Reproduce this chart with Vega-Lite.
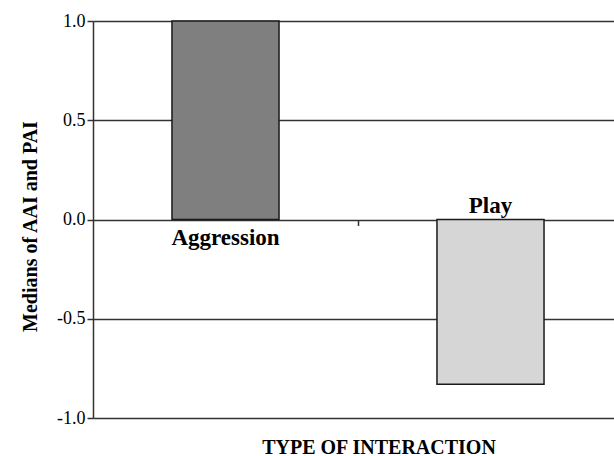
{
  "$schema": "https://vega.github.io/schema/vega-lite/v6.json",
  "autosize": "none",
  "width": 530,
  "height": 397,
  "padding": {"left": 93, "top": 21, "right": 0, "bottom": 38},
  "background": "white",
  "config": {
    "view": {"stroke": null},
    "font": "Liberation Serif"
  },
  "title": {
    "text": "TYPE OF INTERACTION",
    "orient": "bottom",
    "anchor": "middle",
    "font": "Liberation Serif",
    "fontSize": 20,
    "fontWeight": "bold",
    "color": "black",
    "dx": 21,
    "offset": 11
  },
  "data": {
    "values": [
      {"type": "Aggression", "median": 1.0},
      {"type": "Play", "median": -0.83}
    ]
  },
  "encoding": {
    "x": {
      "field": "type",
      "type": "nominal",
      "sort": null,
      "scale": {"paddingInner": 0.596, "paddingOuter": 0.298},
      "axis": {
        "orient": "bottom",
        "offset": -198.5,
        "labels": false,
        "domain": false,
        "ticks": true,
        "tickOffset": 132.5,
        "tickSize": 6,
        "tickColor": "#333333",
        "tickWidth": 1.5,
        "title": null,
        "grid": false
      }
    }
  },
  "layer": [
    {
      "mark": {"type": "bar", "stroke": "#1a1a1a", "strokeWidth": 1.5},
      "encoding": {
        "y": {
          "field": "median",
          "type": "quantitative",
          "scale": {"domain": [-1, 1], "nice": false},
          "axis": {
            "title": "Medians of AAI and PAI",
            "titleFont": "Liberation Serif",
            "titleFontSize": 20,
            "titleFontWeight": "bold",
            "titleColor": "black",
            "titlePadding": 16,
            "titleY": 205,
            "values": [-1, -0.5, 0, 0.5, 1],
            "labelExpr": "replace(format(datum.value, '.1f'), '\u2212', '-')",
            "labelFont": "Liberation Serif",
            "labelFontSize": 18,
            "labelColor": "black",
            "labelPadding": 2,
            "tickSize": 6,
            "tickColor": "#333333",
            "tickWidth": 1.5,
            "domainColor": "#333333",
            "domainWidth": 1.5,
            "grid": true,
            "gridColor": "#333333",
            "gridWidth": 1.5,
            "gridOpacity": 1
          }
        },
        "fill": {
          "field": "type",
          "type": "nominal",
          "scale": {"domain": ["Aggression", "Play"], "range": ["#7f7f7f", "#d6d6d6"]},
          "legend": null
        }
      }
    },
    {
      "transform": [{"filter": "datum.median > 0"}],
      "mark": {"type": "text", "baseline": "top", "dy": 7, "fontSize": 23, "fontWeight": "bold", "font": "Liberation Serif", "color": "black"},
      "encoding": {
        "y": {"datum": 0, "type": "quantitative"},
        "text": {"field": "type"}
      }
    },
    {
      "transform": [{"filter": "datum.median < 0"}],
      "mark": {"type": "text", "baseline": "alphabetic", "dy": -7, "fontSize": 23, "fontWeight": "bold", "font": "Liberation Serif", "color": "black"},
      "encoding": {
        "y": {"datum": 0, "type": "quantitative"},
        "text": {"field": "type"}
      }
    }
  ]
}
